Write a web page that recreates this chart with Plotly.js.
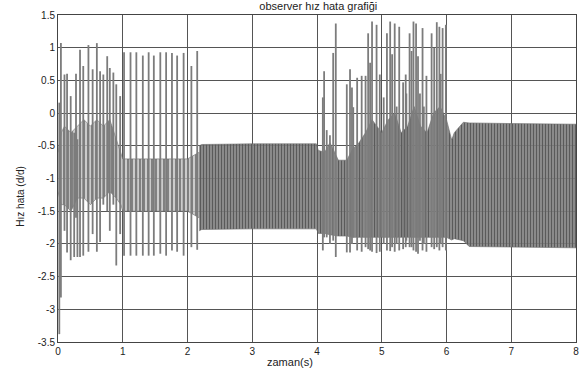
<!DOCTYPE html>
<html>
<head>
<meta charset="utf-8">
<script src="https://cdn.plot.ly/plotly-3.0.1.min.js"></script>
<style>html,body{margin:0;padding:0;background:#fff;}#chart{width:583px;height:376px;}</style>
</head>
<body>
<div id="chart"></div>
<script>
// Spikes: time (s), peak value, trough value
const spikeT   = [0.02,0.045,0.10,0.14,0.196,0.25,0.278,0.30,0.34,0.39,0.47,0.535,0.60,0.65,0.70,0.76,0.80,0.855,0.90,0.96,
                  1.02,1.12,1.21,1.31,1.40,1.48,1.58,1.67,1.76,1.84,1.94,2.06,2.15,
                  4.09,4.11,4.15,4.20,4.25,4.29,4.46,4.51,4.54,4.56,4.62,4.69,4.75,4.79,4.82,4.85,4.92,4.97,5.03,5.08,5.13,5.16,5.20,5.23,5.27,5.33,5.37,5.38,5.43,5.46,5.49,5.53,5.56,5.59,5.63,5.65,5.69,5.77,5.81,5.85,5.89,5.91,5.94,5.99];
const spikeTop = [0.16,1.07,0.59,0.60,0.26,-0.3,0.60,-0.4,0.97,0.72,1.04,0.67,1.07,0.64,0.59,0.87,0.69,0.62,0.44,0.26,
                  0.93,0.93,0.93,0.88,0.93,0.88,0.93,0.93,0.92,0.88,0.92,0.72,0.95,
                  0.24,0.64,-0.26,-0.34,0.92,1.37,0.44,0.67,0.39,0.09,0.54,0.57,0.57,1.22,0.77,1.40,1.35,0.59,0.24,1.22,1.40,0.90,1.37,0.10,1.32,0.47,0.59,0.30,1.22,0.95,1.40,1.37,0.87,0.30,1.30,0.10,0.57,1.22,1.00,1.39,1.32,0.60,1.30,1.35];
const spikeBot = [-3.38,-2.82,-1.80,-2.13,-2.25,-2.20,-1.60,-2.20,-2.20,-2.18,-2.12,-1.85,-2.12,-1.97,-1.40,-1.50,-1.80,-1.40,-2.33,-1.85,
                  -2.18,-2.18,-2.18,-2.18,-2.18,-2.18,-2.15,-2.18,-2.10,-2.12,-2.18,-2.05,-2.09,
                  -2.10,-1.90,-1.90,-2.00,-1.95,-2.20,-2.13,-2.13,-2.00,-1.90,-2.10,-2.12,-2.05,-2.08,-2.10,-2.12,-2.14,-2.12,-2.00,-2.10,-2.11,-2.05,-2.12,-2.00,-2.10,-2.08,-2.05,-1.95,-2.05,-2.05,-2.10,-2.12,-2.15,-1.95,-2.10,-2.00,-2.12,-2.05,-2.08,-2.05,-2.10,-2.00,-2.05,-2.10];

// Light oscillation body, 0 - 2.2 s
const bodyAT  = [0.0,0.05,0.1,0.2,0.3,0.4,0.5,0.6,0.7,0.8,0.9,0.97,1.0,1.2,1.4,1.6,1.8,2.0,2.18];
const bodyAHi = [-0.6,-0.3,-0.2,-0.3,-0.2,-0.1,-0.2,-0.1,-0.2,-0.1,-0.4,-0.6,-0.7,-0.7,-0.7,-0.7,-0.7,-0.7,-0.6];
const bodyALo = [-1.2,-1.4,-1.4,-1.5,-1.3,-1.3,-1.4,-1.3,-1.3,-1.2,-1.3,-1.4,-1.5,-1.5,-1.5,-1.5,-1.5,-1.5,-1.6];

// Dense oscillation body, 2.2 - 8 s
const bodyBT  = [2.18,2.22,3.0,3.99,4.02,4.12,4.2,4.33,4.46,4.55,4.65,4.75,4.85,5.0,5.1,5.2,5.3,5.4,5.5,5.6,5.7,5.8,5.9,6.0,6.08,6.12,6.26,6.35,7.0,8.0];
const bodyBHi = [-0.5,-0.48,-0.47,-0.47,-0.57,-0.6,-0.45,-0.72,-0.72,-0.55,-0.45,-0.3,-0.1,-0.3,-0.1,0.0,-0.3,-0.2,0.1,-0.2,-0.3,0.0,0.1,-0.1,-0.41,-0.3,-0.14,-0.15,-0.16,-0.17];
const bodyBLo = [-1.8,-1.78,-1.77,-1.77,-1.84,-1.84,-1.86,-1.88,-1.88,-1.9,-1.9,-1.9,-1.9,-1.9,-1.9,-1.9,-1.9,-1.9,-1.9,-1.9,-1.9,-1.9,-1.9,-1.9,-1.94,-1.92,-1.95,-2.04,-2.05,-2.06];

const xTicks = [0,1,2,3,4,5,6,7,8];
const yTicks = [-3.5,-3,-2.5,-2,-1.5,-1,-0.5,0,0.5,1,1.5];
const yTickText = ['-3.5','-3','-2.5','-2','-1.5','-1','-0.5','0','0.5','1','1.5'];

function band(t, hi, lo, color, pattern) {
  return {
    type: 'scatter', mode: 'lines',
    x: t.concat(t.slice().reverse()),
    y: hi.concat(lo.slice().reverse()),
    fill: 'toself', fillcolor: color,
    fillpattern: pattern,
    line: {width: 0.6, color: '#6a6a6a'},
    hoverinfo: 'skip', showlegend: false
  };
}

const sx = [], sy = [];
for (let i = 0; i < spikeT.length; i++) {
  sx.push(spikeT[i], spikeT[i], null);
  sy.push(spikeBot[i], spikeTop[i], null);
}

const traces = [
  band(bodyAT, bodyAHi, bodyALo, 'rgba(150,150,150,0.75)', {shape: '|', fgcolor: '#787878', bgcolor: 'rgba(190,190,190,0.8)', size: 4, solidity: 0.45}),
  band(bodyBT, bodyBHi, bodyBLo, 'rgba(110,110,110,0.85)', {shape: '|', fgcolor: '#5a5a5a', bgcolor: 'rgba(145,145,145,0.85)', size: 3, solidity: 0.55}),
  {type: 'scatter', mode: 'lines', x: sx, y: sy, line: {color: '#7c7c7c', width: 1.8}, hoverinfo: 'skip', showlegend: false}
];

const fontFam = 'Liberation Sans, Arial, sans-serif';
const layout = {
  width: 583, height: 376,
  margin: {l: 58, r: 7, t: 15, b: 34},
  paper_bgcolor: '#fff', plot_bgcolor: '#fff',
  showlegend: false,
  title: {text: 'observer hız hata grafiği', font: {family: fontFam, size: 11, color: '#222'}, x: 0.546, xanchor: 'center', y: 0.995, yanchor: 'top'},
  xaxis: {
    range: [0, 8], tickvals: xTicks, ticktext: xTicks.map(String),
    showgrid: true, gridcolor: '#555', gridwidth: 1,
    showline: true, mirror: true, linecolor: '#444', linewidth: 1,
    zeroline: false, ticks: '', tickfont: {family: fontFam, size: 10, color: '#222'},
    title: {text: ''}
  },
  yaxis: {
    range: [-3.5, 1.5], tickvals: yTicks, ticktext: yTickText,
    showgrid: true, gridcolor: '#555', gridwidth: 1,
    showline: true, mirror: true, linecolor: '#444', linewidth: 1,
    zeroline: false, ticks: '', tickfont: {family: fontFam, size: 10, color: '#222'},
    title: {text: ''}
  },
  annotations: [
    {text: 'zaman(s)', xref: 'paper', yref: 'paper', x: 0.448, y: -0.061, xanchor: 'center', yanchor: 'middle', showarrow: false, font: {family: fontFam, size: 11, color: '#222'}},
    {text: 'Hız hata (d/d)', xref: 'paper', yref: 'paper', x: -0.073, y: 0.445, xanchor: 'center', yanchor: 'middle', textangle: -90, showarrow: false, font: {family: fontFam, size: 10, color: '#222'}}
  ]
};

Plotly.newPlot('chart', traces, layout, {displayModeBar: false, staticPlot: true});
</script>
</body>
</html>
